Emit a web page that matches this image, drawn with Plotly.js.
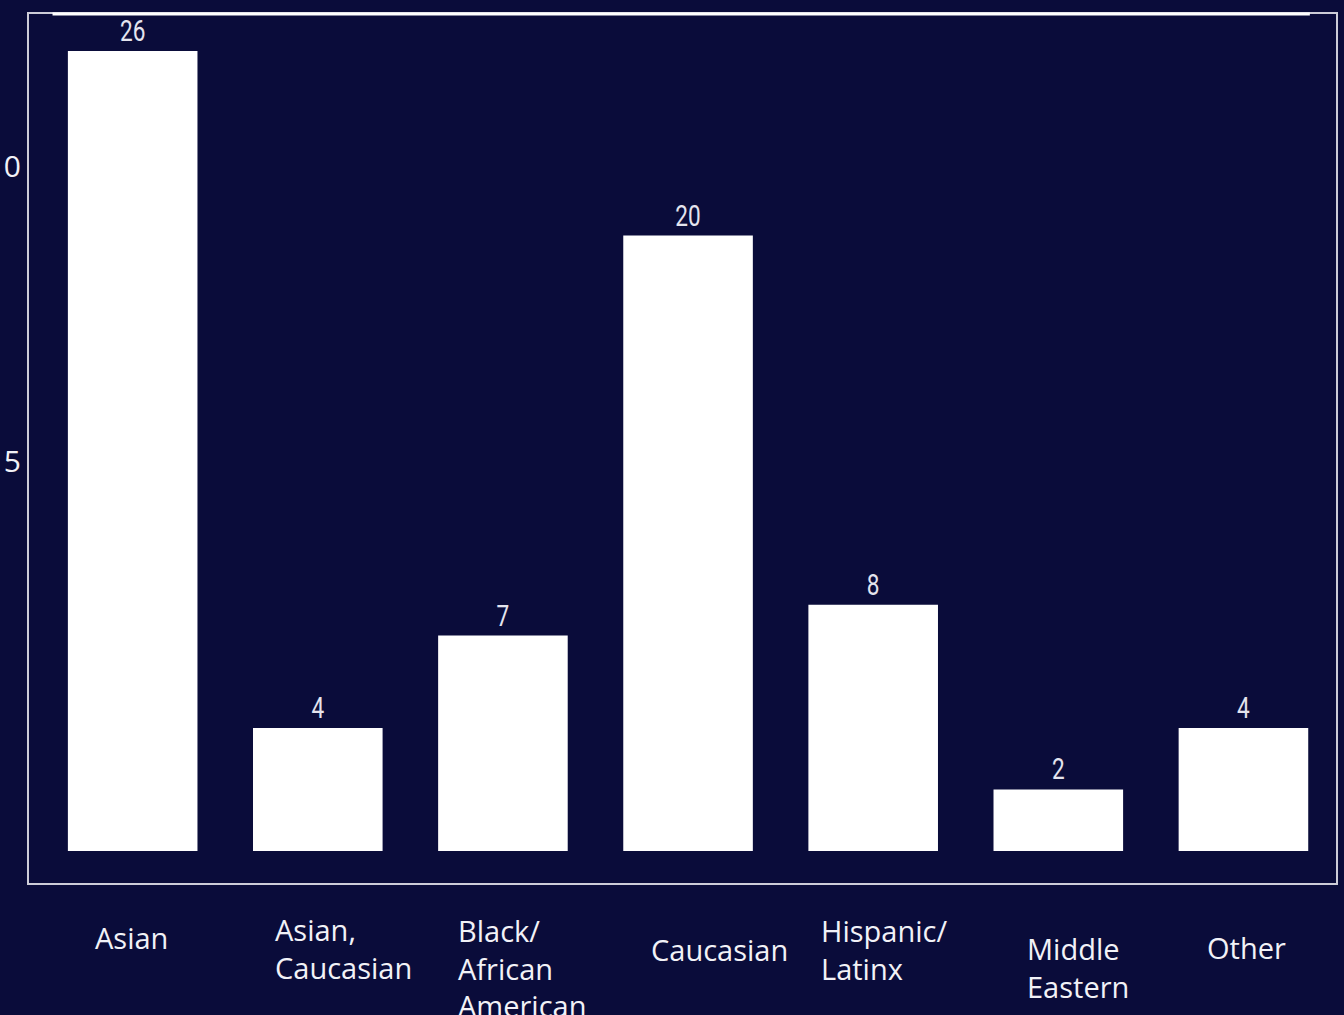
<!DOCTYPE html>
<html>
<head>
<meta charset="utf-8">
<script src="https://cdn.plot.ly/plotly-3.0.1.min.js"></script>
<style>
  html, body { margin: 0; padding: 0; background: #0a0c3a; }
  #chart { width: 1344px; height: 1015px; }
</style>
</head>
<body>
<div id="chart"></div>
<script>
// Respondents by ethnicity
const categories = ['Asian', 'Asian, Caucasian', 'Black/ African American', 'Caucasian',
                    'Hispanic/ Latinx', 'Middle Eastern', 'Other'];
const counts = [26, 4, 7, 20, 8, 2, 4];
// Category labels as shown under the bars (line breaks included)
const categoryLabels = ['Asian', 'Asian,<br>Caucasian', 'Black/<br>African<br>American', 'Caucasian',
                        'Hispanic/<br>Latinx', 'Middle<br>Eastern', 'Other'];
// Left-hand scale ticks
const sideTickVals = [5, 10];
const sideTickText = ['5', '10'];

// Label placement (pixels relative to each category centre / plot bottom)
const labelShiftX = [-40, -45, -47, -39, -54, -33, -38];
const labelShiftY = [-54, -65, -85, -66, -66, -84, -64];

const BG = '#0a0c3a';
const FG = '#f2f2f7';
const BORDER = '#cdcdd8';

const bars = {
  type: 'bar',
  x: categories,
  y: counts,
  text: counts.map(String),
  textposition: 'outside',
  cliponaxis: false,
  textfont: { family: 'Roboto, "Liberation Sans", sans-serif', size: 29, color: '#e4e4ee' },
  marker: { color: '#ffffff', line: { width: 0 } },
  hoverinfo: 'x+y',
  showlegend: false
};

// placeholder so the left-hand scale is laid out
const sideScale = {
  type: 'scatter',
  mode: 'markers',
  x: [categories[0]],
  y: [null],
  yaxis: 'y2',
  hoverinfo: 'skip',
  showlegend: false
};

const annotations = categoryLabels.map((t, i) => ({
  text: t,
  x: categories[i],
  xref: 'x',
  y: 0,
  yref: 'paper',
  xanchor: 'left',
  yanchor: 'middle',
  align: 'left',
  xshift: labelShiftX[i],
  yshift: labelShiftY[i],
  showarrow: false,
  font: { family: '"Open Sans", "Noto Sans", sans-serif', size: 29, color: FG }
}));

const layout = {
  width: 1344,
  height: 1015,
  paper_bgcolor: BG,
  plot_bgcolor: BG,
  margin: { l: 29, r: 8, t: 14, b: 132, pad: 0 },
  bargap: 0.3,
  showlegend: false,
  xaxis: {
    type: 'category',
    categoryorder: 'array',
    categoryarray: categories,
    range: [-0.56, 6.5],
    showticklabels: false,
    ticks: '',
    showgrid: false,
    zeroline: false,
    showline: true,
    mirror: true,
    linecolor: BORDER,
    linewidth: 2
  },
  yaxis: {
    range: [-1.04, 27.2],
    showticklabels: false,
    ticks: '',
    showgrid: false,
    zeroline: false,
    showline: true,
    mirror: true,
    linecolor: BORDER,
    linewidth: 2
  },
  yaxis2: {
    overlaying: 'y',
    side: 'left',
    anchor: 'x',
    range: [-2.136, 12.593],
    tickmode: 'array',
    tickvals: sideTickVals,
    ticktext: sideTickText,
    ticks: '',
    ticklabelstandoff: 7,
    showgrid: false,
    zeroline: false,
    showline: false,
    tickfont: { family: '"Open Sans", "Noto Sans", sans-serif', size: 30, color: FG }
  },
  shapes: [{
    type: 'line',
    xref: 'paper', yref: 'paper',
    x0: 0.018, x1: 0.98, y0: 1, y1: 1,
    yshift: -1,
    line: { color: '#ffffff', width: 3 }
  }],
  annotations: annotations,
  font: { family: '"Open Sans", sans-serif', color: FG }
};

Plotly.newPlot('chart', [bars, sideScale], layout, { displayModeBar: false, staticPlot: true })
  .then(() => {
    // narrow the value labels above the bars (condensed look)
    document.querySelectorAll('#chart text.bartext').forEach(t => {
      const b = t.getBBox();
      const cx = b.x + b.width / 2;
      const tr = t.getAttribute('transform') || '';
      t.setAttribute('transform',
        tr + ' translate(' + cx + ',0) scale(0.78,1) translate(' + (-cx) + ',0)');
    });
  });
</script>
</body>
</html>
